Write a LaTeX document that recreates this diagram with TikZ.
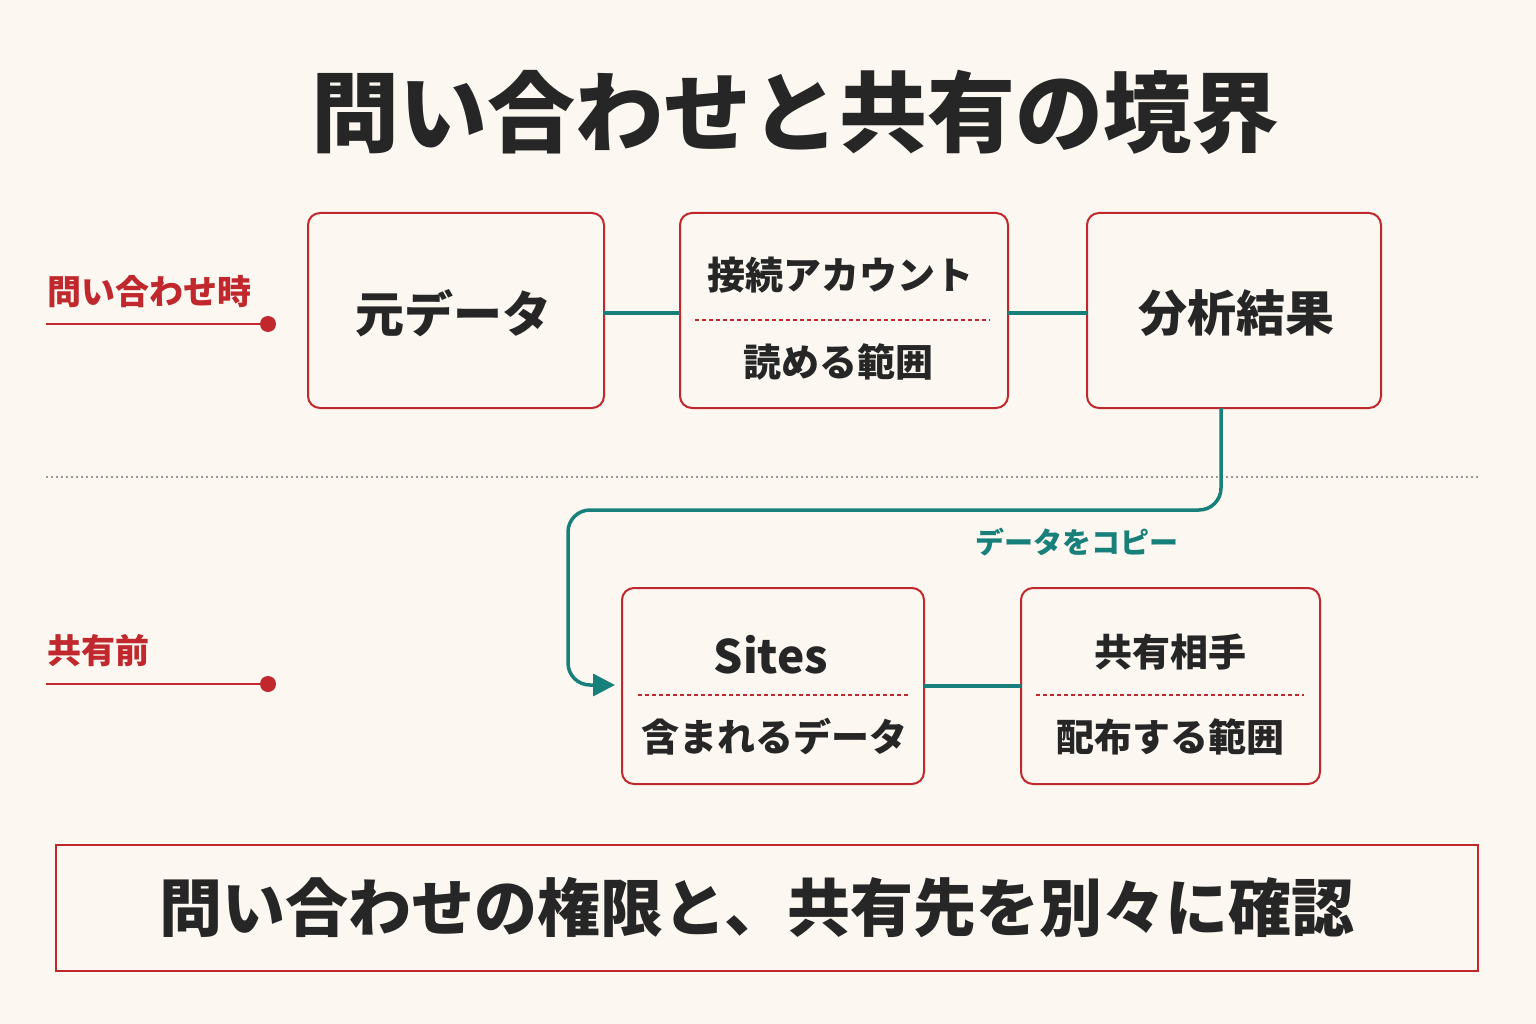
\documentclass[tikz,border=0pt]{standalone}
\usepackage{fontspec}
\setmainfont{Noto Sans CJK JP}
\usetikzlibrary{arrows.meta}
\definecolor{bg}{HTML}{FCF8F1}
\definecolor{rd}{HTML}{C0282D}
\definecolor{tl}{HTML}{17807A}
\definecolor{ink}{HTML}{262626}
\begin{document}
\begin{tikzpicture}[x=1pt,y=-1pt,
 box/.style={draw=rd,line width=2pt,rounded corners=12pt,fill=bg},
 big/.style={font=\fontsize{49}{52}\selectfont\bfseries,text=ink},
 mid/.style={font=\fontsize{38}{42}\selectfont\bfseries,text=ink},
 lab/.style={font=\fontsize{34}{38}\selectfont\bfseries,text=rd},
 conn/.style={draw=tl,line width=4pt},
 dsh/.style={draw=rd,line width=1.3pt,dash pattern=on 4pt off 3pt}]
\fill[bg] (0,0) rectangle (1536,1024);
\useasboundingbox (0,0) rectangle (1536,1024);
\node[font=\fontsize{88}{92}\selectfont\bfseries,text=ink] (title) at (795,112) {問い合わせと共有の境界};
% separator
\draw[gray!80,line width=1.5pt,dash pattern=on 2pt off 3pt] (46,477) -- (1480,477);
% left labels
\node[lab,anchor=west] (l1) at (44,292) {問い合わせ時};
\coordinate (d1) at (268,324);
\draw[rd,line width=2pt] (46,324) -- (d1); \fill[rd] (d1) circle (8);
\node[lab,anchor=west] (l2) at (44,651) {共有前};
\coordinate (d2) at (268,684);
\draw[rd,line width=2pt] (46,684) -- (d2); \fill[rd] (d2) circle (8);
% boxes
\draw[box] (308,213) rectangle (604,408); \node[big] (a) at (453,313) {元データ};
\coordinate (aE) at (604,313);
\draw[box] (680,213) rectangle (1008,408);
\node[mid] (b1) at (840,275) {接続アカウント};
\node[mid] (b2) at (838,362) {読める範囲};
\draw[dsh] (695,320) -- (990,320);
\coordinate (bW) at (680,313); \coordinate (bE) at (1008,313);
\draw[box] (1087,213) rectangle (1381,408); \node[big] (c) at (1236,313) {分析結果};
\coordinate (cW) at (1087,313); \coordinate (cS) at (1221,408);
\draw[box] (622,588) rectangle (924,784);
\node[font=\fontsize{46}{50}\selectfont\bfseries,text=ink] (s1) at (771,655) {Sites};
\node[mid] (s2) at (774,737) {含まれるデータ};
\draw[dsh] (638,695) -- (910,695);
\coordinate (sW) at (615,685); \coordinate (sE) at (924,686);
\draw[box] (1021,588) rectangle (1320,784);
\node[mid] (t1) at (1170,652) {共有相手};
\node[mid] (t2) at (1170,737) {配布する範囲};
\draw[dsh] (1036,695) -- (1304,695);
\coordinate (tW) at (1021,686);
% connectors
\draw[conn] (aE) -- (bW);
\draw[conn] (bE) -- (cW);
\draw[conn] (sE) -- (tW);
\draw[tl,line width=3.5pt,rounded corners=22pt,-{Triangle[length=22pt,width=22pt]}]
 (cS) -- (1221,510) -- (568,510) -- (568,685) -- (sW);
\node[font=\fontsize{29}{32}\selectfont\bfseries,text=tl] (cp) at (1077,542) {データをコピー};
% bottom
\draw[rd,line width=2.5pt,fill=bg] (56,845) rectangle (1478,971);
\node[font=\fontsize{63}{66}\selectfont\bfseries,text=ink] (bt) at (757,908) {問い合わせの権限と、共有先を別々に確認};
\end{tikzpicture}
\end{document}
